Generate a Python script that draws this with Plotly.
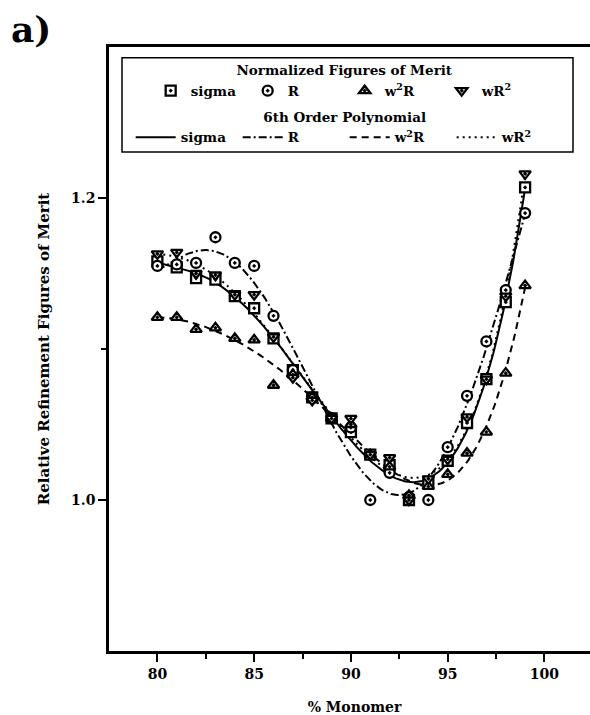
import numpy as np
import plotly.graph_objects as go

# ---------------- data ----------------
monomer = [80, 81, 82, 83, 84, 85, 86, 87, 88, 89,
           90, 91, 92, 93, 94, 95, 96, 97, 98, 99]

sigma = [1.158, 1.154, 1.147, 1.146, 1.135, 1.127, 1.107, 1.086, 1.068, 1.054,
         1.045, 1.030, 1.023, 1.000, 1.012, 1.026, 1.051, 1.080, 1.131, 1.207]

r_vals = [1.155, 1.156, 1.157, 1.174, 1.157, 1.155, 1.122, 1.086, 1.068, 1.054,
          1.048, 1.000, 1.018, 1.002, 1.000, 1.035, 1.069, 1.105, 1.139, 1.190]

w2r = [1.121, 1.121, 1.113, 1.114, 1.107, 1.106, 1.076, 1.083, 1.068, 1.054,
       1.050, 1.030, 1.022, 1.003, 1.009, 1.017, 1.031, 1.045, 1.084, 1.142]

wr2 = [1.163, 1.164, 1.150, 1.149, 1.136, 1.136, 1.108, 1.081, 1.066, 1.054,
       1.054, 1.030, 1.028, 1.000, 1.014, 1.027, 1.055, 1.080, 1.135, 1.216]

series_names = ["sigma", "R", "w<sup>2</sup>R", "wR<sup>2</sup>"]
x_ticks = [80, 85, 90, 95, 100]
y_ticks = [1.0, 1.2]
y_tick_labels = ["1.0", "1.2"]

# ---------------- styles ----------------
FONT = "DejaVu Serif"
symbols = ["square-dot", "circle-dot", "triangle-up-dot", "triangle-down-dot"]
dashes = ["solid", "8px,3px,2px,3px", "7px,5px", "2px,4px"]
values = [sigma, r_vals, w2r, wr2]

fig = go.Figure()

x_arr = np.array(monomer, dtype=float)
x_fine = np.linspace(x_arr.min(), x_arr.max(), 300)

# 6th order polynomial fits (lines)
for name, vals, dash in zip(series_names, values, dashes):
    poly = np.polynomial.Polynomial.fit(x_arr, np.array(vals), 6)
    fig.add_trace(go.Scatter(
        x=x_fine, y=poly(x_fine), mode="lines", name=name,
        line=dict(color="black", width=2, dash=dash),
        legend="legend2", hoverinfo="skip"))

# normalized figures of merit (markers)
for name, vals, sym in zip(series_names, values, symbols):
    fig.add_trace(go.Scatter(
        x=monomer, y=vals, mode="markers", name=name,
        marker=dict(symbol=sym, size=10, color="white",
                    line=dict(color="black", width=2.3)),
        legend="legend"))

leg_font = dict(family=FONT, size=13.5, color="black", weight="bold")

fig.update_layout(
    template="none",
    width=600, height=715,
    margin=dict(l=109, r=0, t=47, b=64, autoexpand=False),
    paper_bgcolor="white", plot_bgcolor="white",
    font=dict(family=FONT, size=13, color="black", weight="bold"),
    showlegend=True,
    legend=dict(
        orientation="h", x=0.48, xanchor="center", y=0.982, yanchor="top",
        title=dict(text="Normalized Figures of Merit", side="top center",
                   font=leg_font),
        font=leg_font, entrywidth=52, bgcolor="rgba(0,0,0,0)",
        borderwidth=0),
    legend2=dict(
        orientation="h", x=0.48, xanchor="center", y=0.905, yanchor="top",
        title=dict(text="6th Order Polynomial", side="top center",
                   font=leg_font),
        font=leg_font, entrywidth=52, bgcolor="rgba(0,0,0,0)",
        borderwidth=0, itemwidth=40),
    xaxis=dict(
        automargin=False,
        range=[77.5, 102.87], tickvals=x_ticks, ticks="outside",
        ticklen=8, tickwidth=2, tickcolor="black",
        showline=True, linecolor="black", linewidth=2.5, mirror=True,
        showgrid=False, zeroline=False,
        minor=dict(tickvals=[82.5, 87.5, 92.5, 97.5], ticks="outside",
                   ticklen=5, tickwidth=2, tickcolor="black", showgrid=False),
        tickfont=dict(family=FONT, size=14, weight="bold"),
        title=dict(text="% Monomer", standoff=22,
                   font=dict(family=FONT, size=14, weight="bold"))),
    yaxis=dict(
        automargin=False,
        range=[0.9, 1.3], tickvals=y_ticks, ticktext=y_tick_labels,
        ticks="outside", ticklen=8, tickwidth=2, tickcolor="black",
        showline=True, linecolor="black", linewidth=2.5,
        showgrid=False, zeroline=False,
        minor=dict(tickvals=[1.1], ticks="outside", ticklen=5, tickwidth=2,
                   tickcolor="black", showgrid=False),
        tickfont=dict(family=FONT, size=14, weight="bold"),
        title=dict(text="Relative Refinement Figures of Merit", standoff=18,
                   font=dict(family=FONT, size=15, weight="bold"))),
    shapes=[dict(type="rect", xref="paper", yref="paper",
                 x0=0.0265, x1=0.945, y0=0.826, y1=0.982,
                 line=dict(color="black", width=1.5), fillcolor="rgba(0,0,0,0)",
                 layer="below")],
    annotations=[dict(text="a)", xref="paper", yref="paper",
                      x=-0.2035, y=1.03, xanchor="left", yanchor="middle",
                      showarrow=False,
                      font=dict(family=FONT, size=36, weight="bold"))],
)

fig.write_html("out.html",
               config={"displayModeBar": False},
               post_script="document.body.style.margin='0px';"
                           "document.body.style.overflow='hidden';")
